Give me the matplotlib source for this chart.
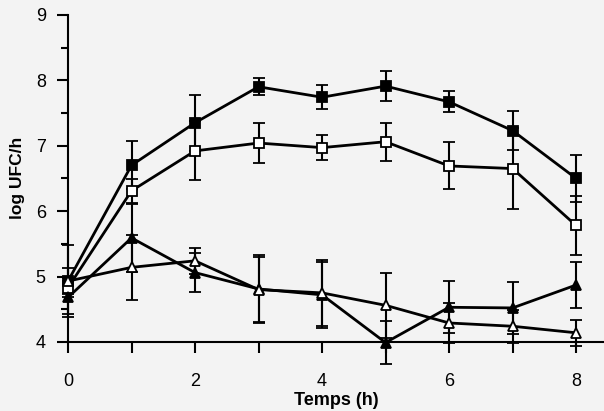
import matplotlib.pyplot as plt
import numpy as np

plt.rcParams['font.family'] = ['Liberation Sans', 'DejaVu Sans']

temps = [0, 1, 2, 3, 4, 5, 6, 7, 8]

# filled squares
sq_full = [4.93, 6.70, 7.35, 7.90, 7.74, 7.91, 7.67, 7.23, 6.50]
sq_full_err = [0.2, 0.37, 0.43, 0.13, 0.18, 0.23, 0.16, 0.30, 0.36]

# open squares
sq_open = [4.83, 6.31, 6.92, 7.04, 6.97, 7.06, 6.69, 6.65, 5.78]
sq_open_err = [0.15, 0.18, 0.45, 0.30, 0.19, 0.29, 0.36, 0.62, 0.45]

# filled triangles
tri_full = [4.68, 5.59, 5.06, 4.81, 4.72, 3.99, 4.53, 4.52, 4.87]
tri_full_err = [0.25, 0.52, 0.30, 0.52, 0.50, 0.33, 0.40, 0.40, 0.35]

# open triangles
tri_open = [4.93, 5.14, 5.24, 4.80, 4.75, 4.56, 4.29, 4.24, 4.14]
tri_open_err = [0.55, 0.50, 0.20, 0.50, 0.50, 0.50, 0.30, 0.25, 0.20]

fig = plt.figure(figsize=(6.04, 4.11), dpi=100, facecolor='#f3f3f3')
ax = fig.add_axes([0.1126, 0.168, 0.8874, 0.796])
ax.set_facecolor('#f3f3f3')

series = [
    (sq_full, sq_full_err, 's', 'black'),
    (sq_open, sq_open_err, 's', 'white'),
    (tri_full, tri_full_err, '^', 'black'),
    (tri_open, tri_open_err, '^', 'white'),
]
for vals, err, mk, face in series:
    ax.errorbar(temps, vals, yerr=err, color='black', lw=2, marker=mk,
                markersize=7.5, markerfacecolor=face, markeredgecolor='black',
                markeredgewidth=1.3, capsize=4, capthick=1.5, elinewidth=1.5,
                clip_on=False, zorder=3)

ax.set_xlim(0, 8.44)
ax.set_ylim(4, 9)
ax.spines['top'].set_visible(False)
ax.spines['right'].set_visible(False)
ax.spines['left'].set_linewidth(1.5)
ax.spines['bottom'].set_linewidth(1.5)

ax.set_xticks([0, 2, 4, 6, 8])
ax.set_xticks([1, 3, 5, 7], minor=True)
ax.set_yticks([4, 5, 6, 7, 8, 9])
ax.set_yticks(np.arange(4.5, 9, 1.0), minor=True)
ax.tick_params(axis='both', which='major', direction='out', length=8, width=1.5,
               labelsize=13)
ax.tick_params(axis='x', which='major', pad=14)
ax.tick_params(axis='y', which='major', pad=8)
ax.tick_params(axis='x', which='minor', direction='out', length=8, width=1.5)
ax.tick_params(axis='y', which='minor', direction='out', length=5, width=1.5)

ax.set_xlabel('Temps (h)', fontsize=13, fontweight='bold', labelpad=2)
ax.set_ylabel('log UFC/h', fontsize=12.5, fontweight='bold', labelpad=8)

fig.savefig('out.png', dpi=100, facecolor=fig.get_facecolor())
